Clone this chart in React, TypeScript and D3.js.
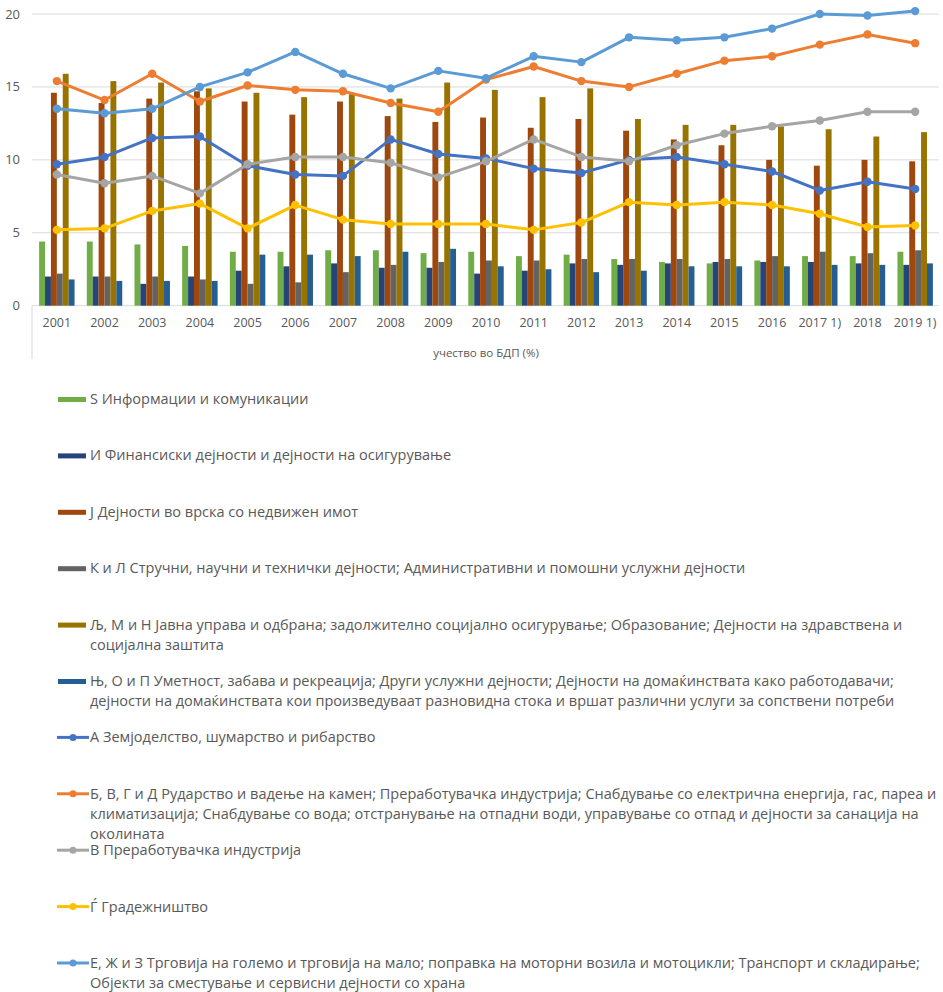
import React from "react";
import * as d3 from "d3";

const years = ["2001","2002","2003","2004","2005","2006","2007","2008","2009","2010","2011","2012","2013","2014","2015","2016","2017 1)","2018","2019 1)"];

// bar series
const infoComm = [4.4,4.4,4.2,4.1,3.7,3.7,3.8,3.8,3.6,3.7,3.4,3.5,3.2,3.0,2.9,3.1,3.4,3.4,3.7];
const finance = [2.0,2.0,1.5,2.0,2.4,2.7,2.9,2.6,2.6,2.2,2.4,2.9,2.8,2.9,3.0,3.0,3.0,2.9,2.8];
const realEstate = [14.6,13.9,14.2,14.7,14.0,13.1,14.0,13.0,12.6,12.9,12.2,12.8,12.0,11.4,11.0,10.0,9.6,10.0,9.9];
const professional = [2.2,2.0,2.0,1.8,1.5,1.6,2.3,2.8,3.0,3.1,3.1,3.2,3.2,3.2,3.2,3.4,3.7,3.6,3.8];
const publicAdmin = [15.9,15.4,15.3,14.9,14.6,14.3,14.5,14.2,15.3,14.8,14.3,14.9,12.8,12.4,12.4,12.3,12.1,11.6,11.9];
const artsOther = [1.8,1.7,1.7,1.7,3.5,3.5,3.4,3.7,3.9,2.7,2.5,2.3,2.4,2.7,2.7,2.7,2.8,2.8,2.9];

// line series
const agriculture = [9.7,10.2,11.5,11.6,9.6,9.0,8.9,11.4,10.4,10.1,9.4,9.1,10.0,10.2,9.7,9.2,7.9,8.5,8.0];
const industryAll = [15.4,14.1,15.9,14.0,15.1,14.8,14.7,13.9,13.3,15.5,16.4,15.4,15.0,15.9,16.8,17.1,17.9,18.6,18.0];
const manufacturing = [9.0,8.4,8.9,7.7,9.7,10.2,10.2,9.8,8.8,9.9,11.4,10.2,9.9,11.0,11.8,12.3,12.7,13.3,13.3];
const construction = [5.2,5.3,6.5,7.0,5.3,6.9,5.9,5.6,5.6,5.6,5.2,5.7,7.1,6.9,7.1,6.9,6.3,5.4,5.5];
const tradeTransport = [13.5,13.2,13.5,15.0,16.0,17.4,15.9,14.9,16.1,15.6,17.1,16.7,18.4,18.2,18.4,19.0,20.0,19.9,20.2];

const yTicks = [0,5,10,15,20];
const axisTitle = "учество во БДП (%)";

const barSeries = [
  { lines: ["Ѕ Информации и комуникации"], color: "#70AD47", values: infoComm },
  { lines: ["И Финансиски дејности и дејности на осигурување"], color: "#264478", values: finance },
  { lines: ["Ј Дејности во врска со недвижен имот"], color: "#9E480E", values: realEstate },
  { lines: ["К и Л Стручни, научни и технички дејности; Административни и помошни услужни дејности"], color: "#636363", values: professional },
  { lines: ["Љ, М и Н Јавна управа и одбрана; задолжително социјално осигурување; Образование; Дејности на здравствена и", "социјална заштита"], color: "#997300", values: publicAdmin },
  { lines: ["Њ, О и П Уметност, забава и рекреација; Други услужни дејности; Дејности на домаќинствата како работодавачи;", "дејности на домаќинствата кои произведуваат разновидна стока и вршат различни услуги за сопствени потреби"], color: "#255E91", values: artsOther },
];

const lineSeries = [
  { lines: ["А Земјоделство, шумарство и рибарство"], color: "#4472C4", values: agriculture },
  { lines: ["Б, В, Г и Д Рударство и вадење на камен; Преработувачка индустрија; Снабдување со електрична енергија, гас, пареа и", "климатизација; Снабдување со вода; отстранување на отпадни води, управување со отпад и дејности за санација на", "околината"], color: "#ED7D31", values: industryAll },
  { lines: ["В Преработувачка индустрија"], color: "#A5A5A5", values: manufacturing },
  { lines: ["Ѓ Градежништво"], color: "#FFC000", values: construction },
  { lines: ["Е, Ж и З Трговија на големо и трговија на мало; поправка на моторни возила и мотоцикли; Транспорт и складирање;", "Објекти за сместување и сервисни дејности со храна"], color: "#5B9BD5", values: tradeTransport },
];

const W = 943, H = 992;
const FONT = "'Open Sans', 'Liberation Sans', sans-serif";
const TEXT = "#595959";

export default function App() {
  const x = d3.scaleBand<string>().domain(years).range([33, 939]).padding(0);
  const y = d3.scaleLinear().domain([0, 20]).range([305.7, 14]);
  const bw = x.bandwidth();
  const groupW = bw * 0.743;
  const x1 = d3.scaleBand<number>().domain(d3.range(barSeries.length)).range([-groupW / 2, groupW / 2]).padding(0);
  const cx = (yr: string) => (x(yr) as number) + bw / 2;
  const lineGen = d3.line<number>().x((_, i) => cx(years[i])).y(v => y(v));

  const legendItems = [...barSeries.map(s => ({ ...s, kind: "bar" })), ...lineSeries.map(s => ({ ...s, kind: "line" }))];
  const legendY = d3.scaleLinear().domain([0, legendItems.length - 1]).range([399, 963]);

  return (
    <svg width={W} height={H} style={{ position: "absolute", left: 0, top: 0, background: "#fff" }} fontFamily={FONT}>
      {yTicks.filter(t => t > 0).map(t => (
        <line key={t} x1={32} x2={939} y1={y(t)} y2={y(t)} stroke="#D9D9D9" strokeWidth={1} />
      ))}
      <line x1={32} x2={939} y1={y(0)} y2={y(0)} stroke="#D9D9D9" strokeWidth={1} />
      <line x1={32} x2={32} y1={y(0)} y2={359} stroke="#D9D9D9" strokeWidth={1} />
      {yTicks.map(t => (
        <text key={t} x={20} y={y(t)} dy="0.35em" textAnchor="end" fontSize={13} fill={TEXT}>{t}</text>
      ))}
      {years.map(yr => (
        <text key={yr} x={cx(yr)} y={323} dy="0.35em" textAnchor="middle" fontSize={12.5} fill={TEXT}>{yr}</text>
      ))}
      <text x={486} y={353} dy="0.35em" textAnchor="middle" fontSize={11.5} fill={TEXT}>{axisTitle}</text>

      {barSeries.map((s, si) => (
        <g key={si} fill={s.color}>
          {s.values.map((v, i) => (
            <rect key={i} x={cx(years[i]) + (x1(si) as number)} width={x1.bandwidth()} y={y(v)} height={y(0) - y(v)} />
          ))}
        </g>
      ))}

      {lineSeries.map((s, si) => (
        <g key={si}>
          <path d={lineGen(s.values) || ""} fill="none" stroke={s.color} strokeWidth={3} strokeLinejoin="round" />
          {s.values.map((v, i) => (
            <circle key={i} cx={cx(years[i])} cy={y(v)} r={4.2} fill={s.color} />
          ))}
        </g>
      ))}

      {legendItems.map((it, i) => {
        const ly = legendY(i);
        return (
          <g key={i}>
            {it.kind === "bar" ? (
              <rect x={58} y={ly - 2} width={28} height={5} fill={it.color} />
            ) : (
              <g>
                <line x1={57} x2={89} y1={ly} y2={ly} stroke={it.color} strokeWidth={3} />
                <circle cx={73} cy={ly} r={3.5} fill={it.color} />
              </g>
            )}
            {it.lines.map((t, li) => (
              <text key={li} x={90} y={ly + li * 20} dy="0.35em" fontSize={14.5} fill={TEXT}>{t}</text>
            ))}
          </g>
        );
      })}
    </svg>
  );
}
